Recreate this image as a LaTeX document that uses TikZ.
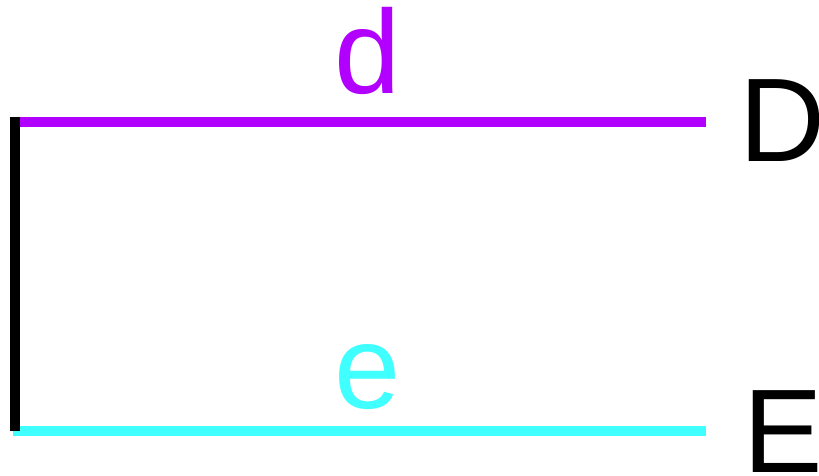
\documentclass[tikz,border=0pt]{standalone}
\usepackage{fontspec}
\setmainfont{Liberation Sans}
\definecolor{linkD}{RGB}{178,0,255}
\definecolor{linkE}{RGB}{64,255,255}
\begin{document}
\begin{tikzpicture}[x=1pt,y=-1pt,
  branch/.style={line width=10pt,line cap=butt},
  lbl/.style={inner sep=0pt,font=\fontsize{119}{119}\selectfont}]
\useasboundingbox (0,0) rectangle (819,476);
\coordinate (top) at (15,117);
\coordinate (bot) at (15,431);
\coordinate (dL) at (15,122);
\coordinate (dR) at (706,122);
\coordinate (eL) at (13,430.5);
\coordinate (eR) at (706,430.5);
\draw[branch,linkD] (dL) -- (dR);
\draw[branch,linkE] (eL) -- (eR);
\draw[branch,black] (top) -- (bot);
\node[lbl,text=linkD,anchor=base] (d) at (368,94) {d};
\node[lbl,text=linkE,anchor=base] (e) at (368,408) {e};
\node[lbl,anchor=base west] (D) at (739,161) {D};
\node[lbl,anchor=base west] (E) at (743,472) {E};
\end{tikzpicture}
\end{document}
